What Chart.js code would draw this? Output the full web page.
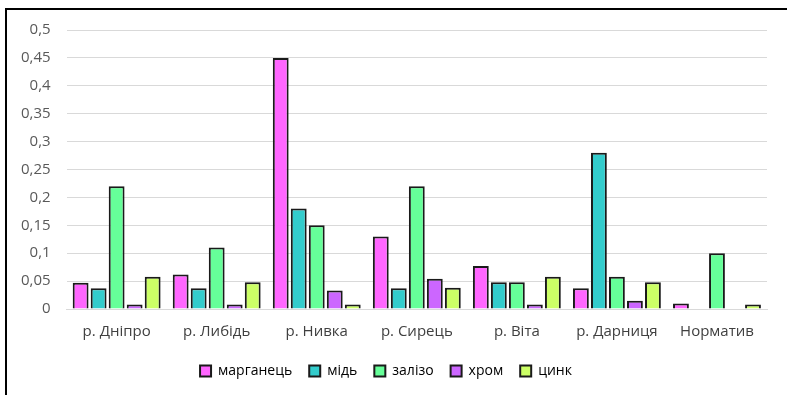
<!DOCTYPE html>
<html>
<head>
<meta charset="utf-8">
<style>
  html, body { margin: 0; padding: 0; background: #fff; }
  #wrap { position: relative; width: 787px; height: 395px; overflow: hidden; }
  #frame { position: absolute; left: 5px; top: 8px; width: 900px; height: 500px;
           border-left: 2px solid #000; border-top: 2px solid #000; }
  canvas { position: absolute; left: 0; top: 0; }
</style>
</head>
<body>
<div id="wrap">
  <div id="frame"></div>
  <canvas id="myChart" width="787" height="395"></canvas>
</div>

<script src="https://cdn.jsdelivr.net/npm/chart.js"></script>
<script>
  // categories (rivers) and metal concentrations
  const rivers = ['р. Дніпро', 'р. Либідь', 'р. Нивка', 'р. Сирець', 'р. Віта', 'р. Дарниця', 'Норматив'];
  const manganese = [0.047, 0.062, 0.45, 0.13, 0.077, 0.037, 0.01];
  const copper    = [0.037, 0.037, 0.18, 0.037, 0.048, 0.28, null];
  const iron      = [0.22, 0.11, 0.15, 0.22, 0.048, 0.058, 0.1];
  const chromium  = [0.008, 0.008, 0.033, 0.054, 0.008, 0.015, null];
  const zinc      = [0.058, 0.048, 0.008, 0.038, 0.058, 0.048, 0.008];
  const yTicks    = [0, 0.05, 0.1, 0.15, 0.2, 0.25, 0.3, 0.35, 0.4, 0.45, 0.5];

  const ctx = document.getElementById('myChart');

  function ds(label, data, color) {
    return {
      label: label,
      data: data,
      backgroundColor: color,
      borderColor: '#1a1a1a',
      borderWidth: 2,
      borderSkipped: 'bottom',
      categoryPercentage: 0.9,
      barPercentage: 0.88
    };
  }

  new Chart(ctx, {
    type: 'bar',
    data: {
      labels: rivers,
      datasets: [
        ds('марганець', manganese, '#ff66ff'),
        ds('мідь', copper, '#33cccc'),
        ds('залізо', iron, '#66ff99'),
        ds('хром', chromium, '#cc66ff'),
        ds('цинк', zinc, '#ccff66')
      ]
    },
    options: {
      responsive: false,
      animation: false,
      layout: {
        padding: { left: 5, right: 20, top: 30, bottom: 7 }
      },
      plugins: {
        tooltip: { enabled: false },
        legend: {
          position: 'bottom',
          labels: {
            color: '#000',
            font: { family: 'Open Sans', size: 14 },
            boxWidth: 11,
            boxHeight: 11,
            padding: 17
          }
        }
      },
      scales: {
        x: {
          grid: { display: false },
          border: { display: true, color: '#d9d9d9', width: 1 },
          ticks: {
            color: '#404040',
            font: { family: 'Open Sans', size: 15 },
            padding: 6
          }
        },
        y: {
          min: 0,
          max: 0.5,
          afterBuildTicks: (axis) => { axis.ticks = yTicks.map(v => ({ value: v })); },
          grid: { color: '#d9d9d9', drawTicks: false },
          border: { display: false },
          ticks: {
            color: '#595959',
            font: { family: 'Open Sans', size: 15 },
            padding: 16,
            callback: (v) => String(Math.round(v * 100) / 100).replace('.', ',')
          }
        }
      }
    }
  });
</script>
</body>
</html>
